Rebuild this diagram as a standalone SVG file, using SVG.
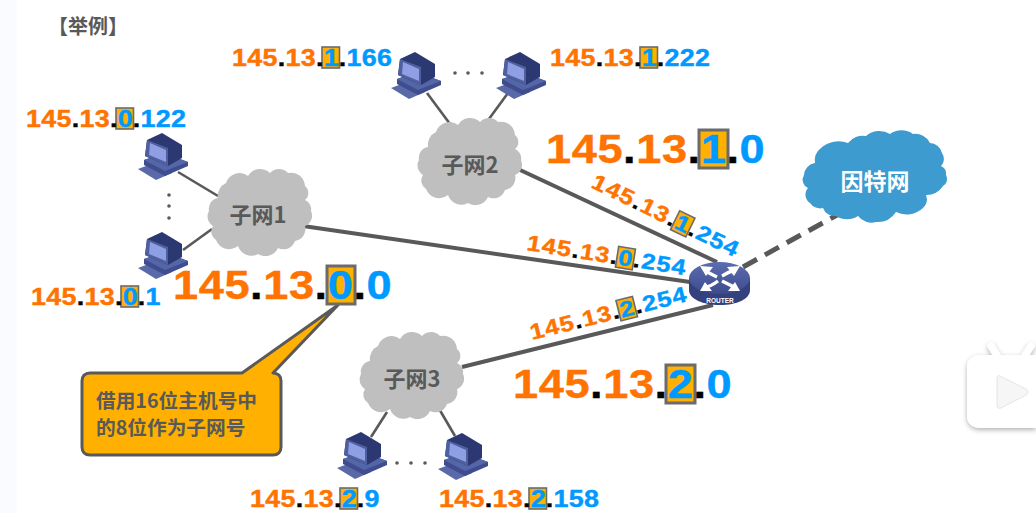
<svg xmlns="http://www.w3.org/2000/svg" width="1036" height="513" viewBox="0 0 1036 513">
<style>
text{font-family:"Liberation Sans",Arial,sans-serif;font-weight:700}
.s{font-size:24px;letter-spacing:.25px}
.r{font-size:22px;letter-spacing:1px}
.l{font-size:40px;letter-spacing:.5px}
.o{fill:#FF7300;stroke:#FF7300;stroke-width:.4}.b{fill:#0099FF;stroke:#0099FF;stroke-width:.4}.k{fill:#000;stroke:#000;stroke-width:.4}
.bs{fill:#FFB000;stroke:#6b6b6b;stroke-width:1.6}
.bl{fill:#FFB000;stroke:#6b6b6b;stroke-width:3}
.c{font-family:"Noto Sans CJK SC","Liberation Sans",sans-serif;fill:#595959}
.cn{font-size:22px;text-anchor:middle}
.main{stroke:#595959;stroke-width:4;fill:none}
.thin{stroke:#595959;stroke-width:2.6;fill:none}
.dot{fill:#595959}
</style>
<defs>
<path id="cloud" d="M9 25A14 14 0 0 1 17 10A14 14 0 0 1 39 3A14 14 0 0 1 61 0A12 12 0 0 1 79 0A14 14 0 0 1 96 13A9 9 0 0 1 96 27A10 10 0 0 1 102 38A11 11 0 0 1 96 53A12 12 0 0 1 86 68A12 12 0 0 1 69 75A14 14 0 0 1 49 81A14 14 0 0 1 29 73A14 14 0 0 1 7 67A10 10 0 0 1 4 53A11 11 0 0 1 0 38A11 11 0 0 1 9 25Z"/>
<path id="cloud-big" d="M5 55A9 9 0 0 1 1 42A13 13 0 0 1 12 30A16 16 0 0 1 18 15A26 26 0 0 1 45 10A18 18 0 0 1 63 3A20 20 0 0 1 87 1A20 20 0 0 1 110 1A16 16 0 0 1 127 10A13 13 0 0 1 139 20A10 10 0 0 1 138 33A8 8 0 0 1 143 42A8 8 0 0 1 140 53A20 20 0 0 1 123 62A12 12 0 0 1 120 75A24 24 0 0 1 93 79A22 22 0 0 1 73 89A17 17 0 0 1 55 83A20 20 0 0 1 33 83A12 12 0 0 1 20 75A12 12 0 0 1 7 70A10 10 0 0 1 5 55Z"/>
<g id="pc">
<path d="M0 36L16 30L34 40L18 47Z" fill="#5a6aa8"/>
<path d="M6 27L26 20L50 29L50 33L27 43L6 32Z" fill="#3f4d8f"/>
<path d="M6 27L26 20L50 29L27 38Z" fill="#5566a8"/>
<path d="M9 7L24 0L44 12L44 25L30 33L7 23Z" fill="#2c3872"/>
<path d="M9 7L30 15L30 33L7 23Z" fill="#4f5f9f"/>
<path d="M12 10L28 17L28 29L11 22Z" fill="#8e9fe4"/>
</g>
<filter id="sh" x="-20%" y="-20%" width="140%" height="140%"><feDropShadow dx="0" dy="2" stdDeviation="2.5" flood-color="#000" flood-opacity=".3"/></filter>
<linearGradient id="rt" x1="0" y1="0" x2="0" y2="1"><stop offset="0" stop-color="#5c6db0"/><stop offset="1" stop-color="#3d4b8c"/></linearGradient>
</defs>
<rect width="1036" height="513" fill="#fff"/>
<rect width="17" height="513" fill="#fafbfe"/>
<g id="connectors">
<path class="main" d="M303 226L690 282"/>
<path class="main" d="M518 169L717 262"/>
<path class="main" d="M462 367L713 305"/>
<path class="main" d="M743 267L837 215" style="stroke-width:5;stroke-dasharray:16 9"/>
<path class="thin" d="M178 172L218 196"/>
<path class="thin" d="M183 250L212 229"/>
<path class="thin" d="M427 93L453 128"/>
<path class="thin" d="M508 93L486 123"/>
<path class="thin" d="M387 412L371 437"/>
<path class="thin" d="M438 407L455 436"/>
</g>
<text id="title" class="c" x="48" y="34" font-size="20">【举例】</text>
<g id="subnet1"><use href="#cloud" x="209" y="173" fill="#bfbfbf"/><text class="c cn" x="258" y="223">子网1</text></g>
<g id="subnet2"><use href="#cloud" x="419" y="122" fill="#bfbfbf"/><text class="c cn" x="470" y="173">子网2</text></g>
<g id="subnet3"><use href="#cloud" x="361" y="336" fill="#bfbfbf"/><text class="c cn" x="412" y="387">子网3</text></g>
<g id="internet"><use href="#cloud-big" x="803" y="133" fill="#3d9bd0"/><text class="c cn" x="875" y="190" style="fill:#fff;font-size:23px">因特网</text></g>
<g id="pc1"><use href="#pc" x="138" y="133"/></g>
<g id="pc2"><use href="#pc" x="138" y="232"/></g>
<g id="pc3"><use href="#pc" x="391" y="52"/></g>
<g id="pc4"><use href="#pc" x="496" y="52"/></g>
<g id="pc5"><use href="#pc" x="337" y="432"/></g>
<g id="pc6"><use href="#pc" x="438" y="433"/></g>
<g id="dots">
<circle class="dot" cx="169" cy="195" r="1.8"/><circle class="dot" cx="169" cy="206" r="1.8"/><circle class="dot" cx="169" cy="218" r="1.8"/>
<circle class="dot" cx="455" cy="73" r="1.8"/><circle class="dot" cx="468" cy="73" r="1.8"/><circle class="dot" cx="482" cy="73" r="1.8"/>
<circle class="dot" cx="397" cy="463" r="1.8"/><circle class="dot" cx="411" cy="463" r="1.8"/><circle class="dot" cx="425" cy="463" r="1.8"/>
</g>
<g id="router">
<path d="M689 278V290C689 299 703 305 720 305C737 305 750 299 750 290V278Z" fill="#34417f"/>
<ellipse cx="719.5" cy="278" rx="30.5" ry="16" fill="url(#rt)"/>
<g fill="none" stroke="#fff" stroke-width="3.4">
<path d="M705 271L717 277"/><path d="M734 271C729 271 726 274 722 276"/>
<path d="M705 287C710 287 714 284 718 281"/><path d="M734 287L722 281"/>
</g>
<g fill="#fff">
<path d="M700 266L713 267L706 276Z"/><path d="M740 266L727 267L734 276Z"/>
<path d="M700 291L712 291L705 282Z"/><path d="M740 291L728 291L735 282Z"/>
</g>
<text x="720" y="303" font-size="6.5" text-anchor="middle" fill="#fff">ROUTER</text>
</g>
<g id="callout">
<path d="M90 373H242L338 305L273 373C278 373 281 376 281 381V447C281 452 278 455 273 455H90C85 455 82 452 82 447V381C82 376 85 373 90 373Z" fill="#FFB000" stroke="#595959" stroke-width="3" stroke-linejoin="round"/>
<text class="c" x="96" y="408" font-size="19.7">借用16位主机号中</text>
<text class="c" x="96" y="435" font-size="19.7">的8位作为子网号</text>
</g>
<g id="label-a" transform="translate(232 66)"><rect class="bs" x="90" y="-19" width="17.5" height="21"/><text class="s" transform="scale(1.12 1)"><tspan class="o">145</tspan><tspan class="k">.</tspan><tspan class="o">13</tspan><tspan class="k">.</tspan><tspan class="b">1</tspan><tspan class="k">.</tspan><tspan class="b">166</tspan></text></g>
<g id="label-b" transform="translate(550 66)"><rect class="bs" x="90" y="-19" width="17.5" height="21"/><text class="s" transform="scale(1.12 1)"><tspan class="o">145</tspan><tspan class="k">.</tspan><tspan class="o">13</tspan><tspan class="k">.</tspan><tspan class="b">1</tspan><tspan class="k">.</tspan><tspan class="b">222</tspan></text></g>
<g id="label-c" transform="translate(26 127)"><rect class="bs" x="90" y="-19" width="17.5" height="21"/><text class="s" transform="scale(1.12 1)"><tspan class="o">145</tspan><tspan class="k">.</tspan><tspan class="o">13</tspan><tspan class="k">.</tspan><tspan class="b">0</tspan><tspan class="k">.</tspan><tspan class="b">122</tspan></text></g>
<g id="label-d" transform="translate(31 305)"><rect class="bs" x="90" y="-19" width="17.5" height="21"/><text class="s" transform="scale(1.12 1)"><tspan class="o">145</tspan><tspan class="k">.</tspan><tspan class="o">13</tspan><tspan class="k">.</tspan><tspan class="b">0</tspan><tspan class="k">.</tspan><tspan class="b">1</tspan></text></g>
<g id="label-e" transform="translate(250 507)"><rect class="bs" x="90" y="-19" width="17.5" height="21"/><text class="s" transform="scale(1.12 1)"><tspan class="o">145</tspan><tspan class="k">.</tspan><tspan class="o">13</tspan><tspan class="k">.</tspan><tspan class="b">2</tspan><tspan class="k">.</tspan><tspan class="b">9</tspan></text></g>
<g id="label-f" transform="translate(439 507)"><rect class="bs" x="90" y="-19" width="17.5" height="21"/><text class="s" transform="scale(1.12 1)"><tspan class="o">145</tspan><tspan class="k">.</tspan><tspan class="o">13</tspan><tspan class="k">.</tspan><tspan class="b">2</tspan><tspan class="k">.</tspan><tspan class="b">158</tspan></text></g>
<g id="net-1" transform="translate(546 163)"><rect class="bl" x="153" y="-33" width="29" height="38"/><text class="l" transform="scale(1.13 1)"><tspan class="o">145</tspan><tspan class="k">.</tspan><tspan class="o">13</tspan><tspan class="k">.</tspan><tspan class="b">1</tspan><tspan class="k">.</tspan><tspan class="b">0</tspan></text></g>
<g id="net-0" transform="translate(173 299)"><rect class="bl" x="154" y="-33" width="28" height="38"/><text class="l" transform="scale(1.13 1)"><tspan class="o">145</tspan><tspan class="k">.</tspan><tspan class="o">13</tspan><tspan class="k">.</tspan><tspan class="b">0</tspan><tspan class="k">.</tspan><tspan class="b">0</tspan></text></g>
<g id="net-2" transform="translate(513 398)"><rect class="bl" x="153" y="-33" width="29" height="38"/><text class="l" transform="scale(1.13 1)"><tspan class="o">145</tspan><tspan class="k">.</tspan><tspan class="o">13</tspan><tspan class="k">.</tspan><tspan class="b">2</tspan><tspan class="k">.</tspan><tspan class="b">0</tspan></text></g>
<g id="if-1" transform="translate(590 187) rotate(26)"><rect class="bs" x="91" y="-18" width="17" height="21"/><text class="r" transform="scale(1.15 1)"><tspan class="o">145</tspan><tspan class="k">.</tspan><tspan class="o">13</tspan><tspan class="k">.</tspan><tspan class="b">1</tspan><tspan class="k">.</tspan><tspan class="b">254</tspan></text></g>
<g id="if-0" transform="translate(526 250) rotate(9)"><rect class="bs" x="91" y="-18" width="17" height="21"/><text class="r" transform="scale(1.15 1)"><tspan class="o">145</tspan><tspan class="k">.</tspan><tspan class="o">13</tspan><tspan class="k">.</tspan><tspan class="b">0</tspan><tspan class="k">.</tspan><tspan class="b">254</tspan></text></g>
<g id="if-2" transform="translate(532 340) rotate(-14)"><rect class="bs" x="91" y="-18" width="17" height="21"/><text class="r" transform="scale(1.15 1)"><tspan class="o">145</tspan><tspan class="k">.</tspan><tspan class="o">13</tspan><tspan class="k">.</tspan><tspan class="b">2</tspan><tspan class="k">.</tspan><tspan class="b">254</tspan></text></g>
<g id="tv-badge" filter="url(#sh)" fill="#fff">
<path d="M991 346L998 357M1031 346L1024 357" stroke="#fff" stroke-width="7" stroke-linecap="round" fill="none"/>
<path d="M980 355H1036V428H980C972 428 967 423 967 416V367C967 360 972 355 980 355Z"/>
</g>
<path id="tv-play" d="M1000 376L1026 389C1029 391 1029 393 1026 395L1001 408C998 409 998 408 997 405V379C997 376 998 375 1000 376Z" fill="#f6f6f6" stroke="#e4e4e4"/>
</svg>
